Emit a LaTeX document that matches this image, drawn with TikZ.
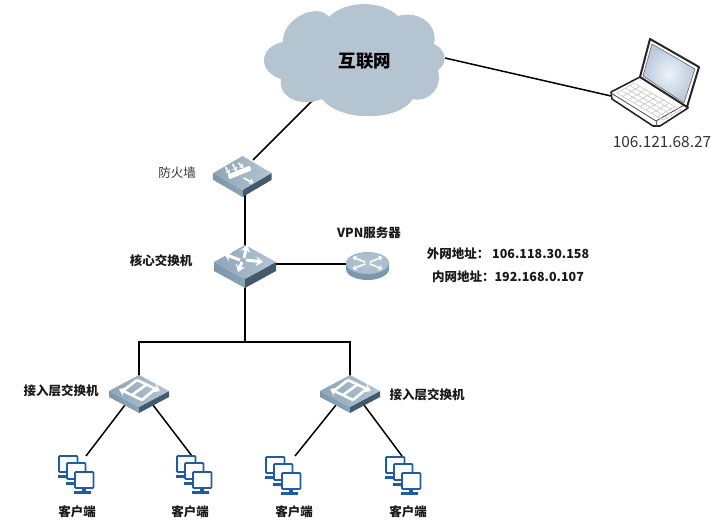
\documentclass[tikz,border=0pt]{standalone}
\usepackage{fontspec}
\newfontfamily\cjk{Noto Sans CJK SC}
\usetikzlibrary{arrows.meta,calc}

\definecolor{cloudblue}{HTML}{B4C4D1}
\definecolor{facetopa}{HTML}{8DA5B8}
\definecolor{facetopb}{HTML}{B4C5D3}
\definecolor{faceleft}{HTML}{7C96AB}
\definecolor{faceright}{HTML}{43596C}
\definecolor{pcblue}{HTML}{1F5CA6}
\definecolor{screenpale}{HTML}{EEF3F8}
\definecolor{screenblue}{HTML}{B9C8DC}

\tikzset{
  link/.style={black, line width=1.5pt},
  devnode/.style={inner sep=0pt, outer sep=0pt},
  tag/.style={font=\cjk\fontsize{12.5}{15}\selectfont\bfseries, text=black!90, inner sep=0pt},
  plaintag/.style={font=\cjk\fontsize{12.5}{15}\selectfont, text=black!80, inner sep=0pt},
  glyph/.style={white, line width=3pt, -{Stealth[length=7pt,width=10pt]}},
  smallglyph/.style={white, line width=1.6pt, -{Stealth[length=4pt,width=6pt]}},
  % --- flat box: half width, half height, thickness ---
  pics/flatbox/.style n args={3}{code={
    \shade[left color=faceleft, right color=faceleft!70!facetopb]
      (-#1,0) -- (0,#2) -- (0,#2+#3) -- (-#1,#3) -- cycle;
    \fill[faceright] (#1,0) -- (0,#2) -- (0,#2+#3) -- (#1,#3) -- cycle;
    \shade[left color=facetopa, right color=facetopb]
      (-#1,0) -- (0,-#2) -- (#1,0) -- (0,#2) -- cycle;
  }},
  pics/clientgroup/.style={code={
    \foreach \dx/\dy in {0/0, 8/7, 16/16} {
      \begin{scope}[shift={(\dx pt,-\dy pt)}]
        \fill[pcblue] (7,16) rectangle (11,19);
        \fill[pcblue] (-1,19) rectangle (16,22);
        \draw[pcblue, line width=1.8pt, fill=white, rounded corners=0.8pt] (0,0) rectangle (18.5,16);
      \end{scope}
    }
  }},
}

\begin{document}
\begin{tikzpicture}[x=1pt, y=-1pt, >=Stealth]
\useasboundingbox (0,0) rectangle (724,532);

% --- Anchors for the connectors ---
\node[devnode, minimum width=180pt, minimum height=116pt] (cloud) at (355,58) {};
\node[devnode, minimum width=16pt, minimum height=30pt] (firewall) at (245,175) {};
\node[devnode, minimum width=50pt, minimum height=20pt] (core) at (245,264) {};
\node[devnode, minimum width=44pt, minimum height=20pt] (vpn) at (367,264) {};
\node[devnode, minimum width=28pt, minimum height=26pt] (accessa) at (139,392) {};
\node[devnode, minimum width=28pt, minimum height=26pt] (accessb) at (350,392) {};
\node[devnode, minimum width=88pt, minimum height=10pt] (laptop) at (655,96) {};
\coordinate (bus) at (245,342);
\coordinate (clienta) at (86,456);
\coordinate (clientb) at (192,456);
\coordinate (clientc) at (295,456);
\coordinate (clientd) at (402,456);

% --- Connectors ---
\draw[link] (cloud.center) -- (firewall.north east);
\draw[link] (cloud.east) -- (laptop.west);
\draw[link] (firewall.south) -- (core.north);
\draw[link] (core.center) -- (vpn.center);
\draw[link] (core.south) -- (bus);
\draw[link] (accessa.north) |- (bus) -| (accessb.north);
\draw[link] (accessa.south west) -- (clienta);
\draw[link] (accessa.south east) -- (clientb);
\draw[link] (accessb.south west) -- (clientc);
\draw[link] (accessb.south east) -- (clientd);

% --- Cloud ---
\fill[cloudblue] (329,17)
  .. controls (345,0) and (382,0) .. (398,16)
  .. controls (420,10) and (438,25) .. (434,44)
  .. controls (444,48) and (450,62) .. (438,70)
  .. controls (443,88) and (428,103) .. (413,99)
  .. controls (398,122) and (340,122) .. (322,99)
  .. controls (300,108) and (278,97) .. (281,79)
  .. controls (258,72) and (258,47) .. (283,42)
  .. controls (282,18) and (318,2) .. (329,17) -- cycle;
\node[devnode, font=\cjk\fontsize{17.5}{19}\selectfont\bfseries] (cloudtag) at (365,61) {互联网};

% --- Firewall ---
\pic at (242.5,173) {flatbox={29}{17}{7}};
\begin{scope}[shift={(242.5pt,-173pt)}]
  \draw[smallglyph] (-17,-6) -- (-13,1);
  \draw[smallglyph] (-10,-9) -- (-6,-2);
  \draw[smallglyph] (-4,-10) -- (1,-5);
  \draw[white, line width=5pt] (-14,4) -- (8,-5);
  \draw[smallglyph] (1,5) -- (11,10);
\end{scope}

% --- Core switch ---
\pic at (245,262) {flatbox={31}{17}{9}};
\begin{scope}[shift={(243pt,-260pt)}]
  \draw[glyph] (-3,0) -- (-19,-6);
  \draw[glyph] (3,0) -- (20,2);
  \draw[glyph] (1,-2) -- (4,-15);
  \draw[glyph] (-1,2) -- (-5,12);
\end{scope}

% --- VPN server ---
\fill[faceleft] (346,263) -- (346,269) arc (180:360:21.5pt and 11pt) -- (389,263) -- cycle;
\shade[inner color=facetopb, outer color=facetopb!70!facetopa] (367.5,263) ellipse (21.5pt and 11pt);
\begin{scope}[shift={(367.5pt,-263pt)}]
  \foreach \ex/\ey in {-15/-6, 15/-6, -15/6, 15/6} {
    \draw[smallglyph] (\ex*0.15,\ey*0.15) -- (\ex,\ey);
  }
\end{scope}

% --- Access switches ---
\foreach \px/\nm in {139/a, 350/b} {
  \pic at (\px,391) {flatbox={30}{16}{6}};
  \begin{scope}[shift={(\px pt,-391pt)}]
    \draw[white, line width=2.6pt] (-15,-1) -- (-2,-11);
    \draw[white, line width=2.6pt] (3,9) -- (15,-1);
    \draw[white, line width=2.6pt] (-7,4) -- (7,-6);
    \draw[glyph, line width=2.6pt] (-2,-11) -- (21,0);
    \draw[glyph, line width=2.6pt] (3,9) -- (-20,-2);
  \end{scope}
}

% --- Clients ---
\pic at (59,456) {clientgroup};
\pic at (177,456) {clientgroup};
\pic at (266,457) {clientgroup};
\pic at (386,457) {clientgroup};

% --- Laptop ---
\fill[white] (640,77) -- (611,92) -- (612,99) -- (653,126) -- (660,126) -- (688,108) -- (687,107) -- cycle;
\draw[black!85, line width=1.6pt, line join=round]
  (640,77) -- (611,92) -- (612,99) -- (653,126) -- (660,126) -- (688,108) -- (687,105);
\draw[black!70, line width=0.8pt] (611,93) -- (656,121) -- (686,104);
\draw[black!60, line width=0.7pt] (656,121) -- (656,126);
\foreach \t in {0,0.125,...,1} {
  \draw[gray!50, line width=0.5pt] ($(634,83)!\t!(681,110)$) -- ($(617,93)!\t!(663,120)$);
}
\foreach \t in {0,0.25,...,1} {
  \draw[gray!50, line width=0.5pt] ($(634,83)!\t!(617,93)$) -- ($(681,110)!\t!(663,120)$);
}
\filldraw[fill=white, draw=black!85, line width=2pt, line join=round]
  (650,39) -- (699,67) -- (687,107) -- (640,77) -- cycle;
\shade[inner color=screenpale, outer color=screenblue, draw=black!60, line width=0.6pt]
  (652,44) -- (695,69) -- (684,103) -- (643,76) -- cycle;

% --- Labels ---
\node[plaintag] (firewalltag) at (177,173) {防火墙};
\node[tag] (coretag) at (161,261) {核心交换机};
\node[tag] (vpntag) at (369,233) {VPN服务器};
\node[tag] (wantag) at (508,254) {外网地址： 106.118.30.158};
\node[tag] (lantag) at (508,277) {内网地址：192.168.0.107};
\node[tag] (accessatag) at (61,391) {接入层交换机};
\node[tag] (accessbtag) at (427,395) {接入层交换机};
\node[tag] (clientatag) at (77,512) {客户端};
\node[tag] (clientbtag) at (190,512) {客户端};
\node[tag] (clientctag) at (294,512) {客户端};
\node[tag] (clientdtag) at (408,512) {客户端};
\node[plaintag, font=\cjk\fontsize{15.4}{17}\selectfont] (laptoptag) at (662,142) {106.121.68.27};

\end{tikzpicture}
\end{document}
